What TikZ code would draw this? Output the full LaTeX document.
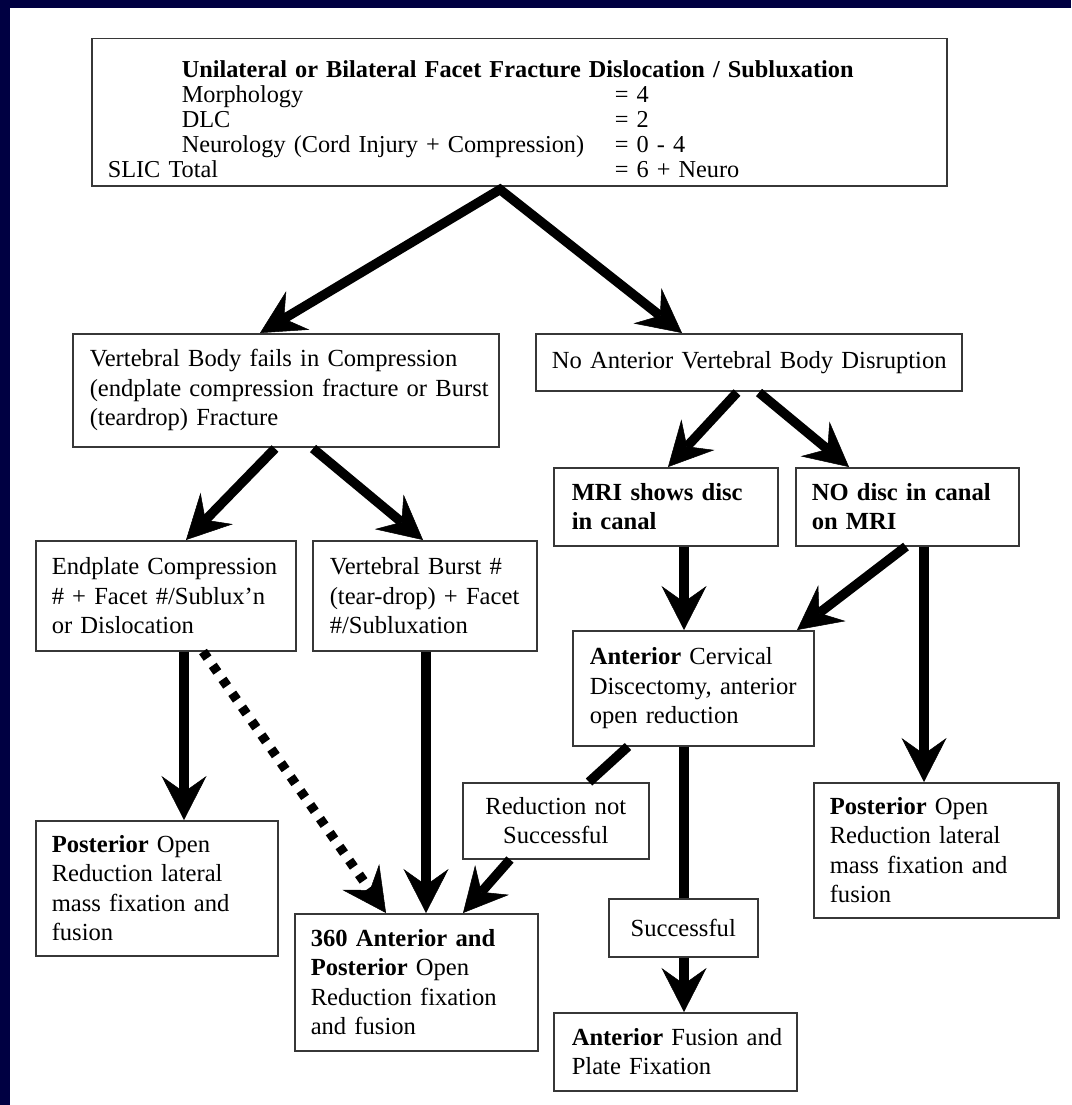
\documentclass[tikz,border=0pt]{standalone}
\usepackage{fontspec}
\setmainfont{Liberation Serif}
\usetikzlibrary{arrows.meta,calc}
\definecolor{navy}{RGB}{0,0,66}
\definecolor{boxline}{RGB}{55,55,55}
\newcommand\fsbody{\fontsize{24.6pt}{29.4pt}\selectfont}
\newcommand\fstop{\fontsize{24.3pt}{25pt}\selectfont}
\newcommand\bt[2]{\leftskip=#1pt\relax #2\par}
\begin{document}
\begin{tikzpicture}[x=1pt,y=-1pt,
  box/.style={draw=boxline, line width=1.5pt, fill=white, anchor=north west,
    inner xsep=0pt, inner ysep=0pt, align=left, font=\fsbody},
  cbox/.style={box, align=center},
  tipA/.tip={Stealth[length=44pt,width=45pt,inset=16pt,line width=0.5pt]},
  fat/.style={line width=9.5pt, line cap=butt},
  fatarrow/.style={fat, -tipA},
  dotarrow/.style={fat, -tipA, dash pattern=on 8pt off 9pt}
]
\useasboundingbox (0,0) rectangle (1071,1105);
\fill[white] (0,0) rectangle (1071,1105);
\fill[navy] (0,0) rectangle (1071,8);
\fill[navy] (0,0) rectangle (10,1105);

% boxes
\node[box, font=\fstop, text width=855pt, minimum height=147pt] (top) at (91,38)
 {\bt{16}{\rule{0pt}{31pt}\hspace*{74pt}\textbf{Unilateral or Bilateral Facet Fracture Dislocation / Subluxation}\\
  \hspace*{74pt}\makebox[433pt][l]{Morphology}= 4\\
  \hspace*{74pt}\makebox[433pt][l]{DLC}= 2\\
  \hspace*{74pt}\makebox[433pt][l]{Neurology (Cord Injury + Compression)}= 0 - 4\\
  \makebox[507pt][l]{SLIC Total}= 6 + Neuro}};

\node[box, text width=426pt, minimum height=113pt] (vb) at (72,333)
 {\bt{17}{Vertebral Body fails in Compression\\(endplate compression fracture or Burst\\(teardrop) Fracture}};
\node[box, text width=426pt, minimum height=57pt] (noant) at (535,333)
 {\bt{16}{No Anterior Vertebral Body Disruption}};

\node[box, text width=260pt, minimum height=110pt] (endp) at (35,540)
 {\bt{16}{Endplate Compression\\\# + Facet \#/Sublux’n\\or Dislocation}};
\node[box, text width=224pt, minimum height=110pt] (burst) at (312,540)
 {\bt{17}{Vertebral Burst \#\\(tear-drop) + Facet\\\#/Subluxation}};

\node[box, text width=224pt, minimum height=78pt] (mri) at (553,467)
 {\bt{18}{\textbf{MRI shows disc}\\\textbf{in canal}}};
\node[box, text width=223pt, minimum height=78pt] (nodisc) at (795,467)
 {\bt{16}{\textbf{NO disc in canal}\\\textbf{on MRI}}};

\node[box, text width=241pt, minimum height=115pt] (ac) at (572,630)
 {\bt{17}{\textbf{Anterior} Cervical\\Discectomy, anterior\\open reduction}};

\node[box, text width=244pt, minimum height=135pt] (postR) at (813,782)
 {\bt{16}{\textbf{Posterior} Open\\Reduction lateral\\mass fixation and\\fusion}};
\draw[boxline, line width=3pt] (postR.north east) -- (postR.south east);

\node[cbox, text width=186pt, minimum height=76pt] (redn) at (462,782)
 {Reduction not\\Successful};
\node[cbox, text width=149pt, minimum height=58pt] (succ) at (608,898)
 {Successful};
\node[box, text width=243pt, minimum height=78pt] (fus) at (553,1012)
 {\bt{18}{\textbf{Anterior} Fusion and\\Plate Fixation}};

\node[box, text width=242pt, minimum height=135pt] (postL) at (35,820)
 {\bt{16}{\textbf{Posterior} Open\\Reduction lateral\\mass fixation and\\fusion}};
\node[box, text width=243pt, minimum height=137pt] (p360) at (294,913)
 {\bt{16}{\textbf{360 Anterior and}\\\textbf{Posterior} Open\\Reduction fixation\\and fusion}};

% connectors
\coordinate (apex) at ($(top.south west)+(409,3)$);
\draw[fat, tipA-tipA, line join=miter] ($(vb.north west)+(188,0)$) -- (apex) -- ($(noant.north west)+(147,0)$);

\draw[fatarrow] ($(vb.south west)+(203,1)$) -- ($(endp.north west)+(151,0)$);
\draw[fatarrow] ($(vb.south west)+(241,1)$) -- ($(burst.north west)+(111,0)$);

\draw[fatarrow] ($(noant.south west)+(202,1)$) -- ($(mri.north west)+(115,0)$);
\draw[fatarrow] ($(noant.south west)+(224,1)$) -- ($(nodisc.north west)+(54,0)$);

\coordinate (m1) at ($(mri.south west)+(131,0)$);
\draw[fatarrow] (m1) -- (m1 |- ac.north);
\draw[fatarrow] ($(nodisc.south west)+(111,0)$) -- ($(ac.north west)+(225,0)$);
\coordinate (n1) at ($(nodisc.south west)+(129,0)$);
\draw[fatarrow] (n1) -- (n1 |- postR.north);

\draw[fat] ($(ac.south west)+(56,0)$) -- ($(redn.north west)+(127,0)$);
\draw[fatarrow] ($(redn.south west)+(48,0)$) -- ($(p360.north west)+(169,0)$);

\coordinate (a1) at ($(ac.south west)+(112,0)$);
\draw[fat] (a1) -- (a1 |- succ.north);
\coordinate (s1) at ($(succ.south west)+(76,0)$);
\draw[fatarrow] (s1) -- (s1 |- fus.north);

\coordinate (e1) at ($(endp.south west)+(149,0)$);
\draw[fatarrow] (e1) -- (e1 |- postL.north);
\draw[dotarrow] ($(endp.south west)+(168,0)$) -- ($(p360.north west)+(92,0)$);
\coordinate (b1) at ($(burst.south west)+(114,0)$);
\draw[fatarrow] (b1) -- (b1 |- p360.north);
\end{tikzpicture}
\end{document}
